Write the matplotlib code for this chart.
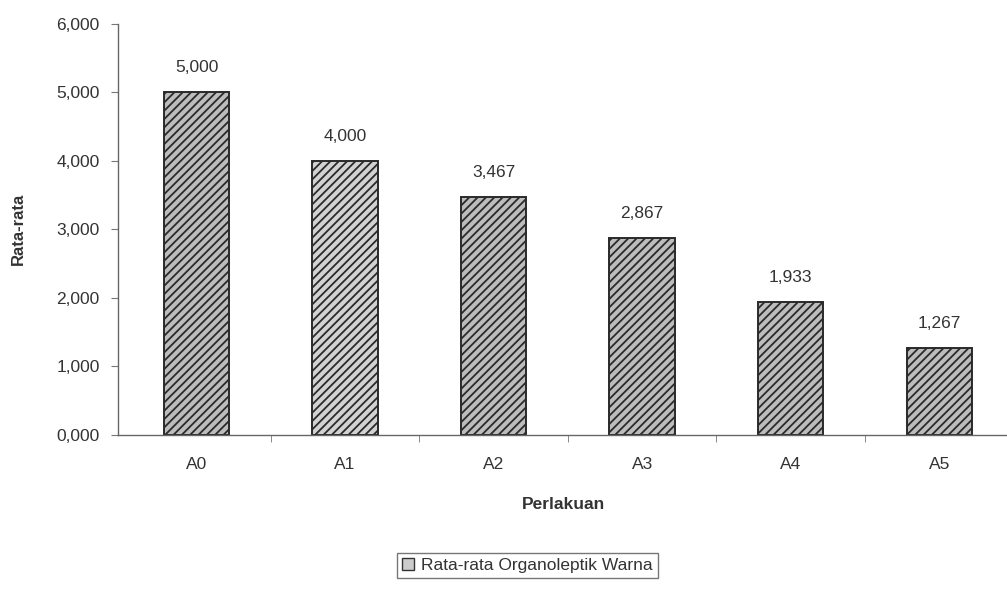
import matplotlib.pyplot as plt
import matplotlib as mpl
from matplotlib.patches import Patch

mpl.rcParams['hatch.color'] = '#9c9c9c'
mpl.rcParams['hatch.linewidth'] = 1.3
plt.rcParams['font.family'] = ['Liberation Sans', 'DejaVu Sans']

# data
categories = ['A0', 'A1', 'A2', 'A3', 'A4', 'A5']
values = [5.000, 4.000, 3.467, 2.867, 1.933, 1.267]
value_labels = ['5,000', '4,000', '3,467', '2,867', '1,933', '1,267']
yticks = [0, 1, 2, 3, 4, 5, 6]
ytick_labels = ['0,000', '1,000', '2,000', '3,000', '4,000', '5,000', '6,000']
legend_label = 'Rata-rata Organoleptik Warna'

text_col = '#333333'
fig = plt.figure(figsize=(10.07, 5.91), dpi=100)
ax = fig.add_axes([0.117, 0.264, 0.885, 0.696])

x = list(range(len(categories)))
bars = ax.bar(x, values, width=0.44, color='#bcbcbc', edgecolor='#2a2a2a',
              linewidth=1.4, hatch='////')
bars[1].set_facecolor('#d2d2d2')

# value labels above bars
for xi, v, lab in zip(x, values, value_labels):
    ax.text(xi, v + 0.25, lab, ha='center', va='bottom', fontsize=12.5, color=text_col)

ax.set_xlim(-0.53, 5.47)
ax.set_ylim(0, 6)
ax.set_yticks(yticks)
ax.set_yticklabels(ytick_labels, fontsize=12.5, color=text_col)
ax.set_xticks(x)
ax.set_xticklabels(categories, fontsize=12.5, color=text_col)
ax.tick_params(axis='x', length=0, pad=16)
ax.set_xticks([i + 0.5 for i in x[:-1]], minor=True)
ax.tick_params(axis='x', which='minor', length=5, color='#777777')
ax.tick_params(axis='y', length=5, color='#777777', pad=8)

for s in ['top', 'right']:
    ax.spines[s].set_visible(False)
for s in ['left', 'bottom']:
    ax.spines[s].set_color('#666666')
    ax.spines[s].set_linewidth(1.0)

ax.set_ylabel('Rata-rata', fontsize=12, fontweight='bold', color=text_col, labelpad=22)
ax.set_xlabel('Perlakuan', fontsize=12.5, fontweight='bold', color=text_col, labelpad=18)

handle = Patch(facecolor='#cccccc', edgecolor='#333333', linewidth=1.0)
fig.legend([handle], [legend_label], loc='center', bbox_to_anchor=(0.524, 0.043),
           fontsize=12.5, frameon=True, fancybox=False, edgecolor='#555555',
           handlelength=0.7, handleheight=0.7, handletextpad=0.4, borderpad=0.3,
           labelcolor=text_col)

fig.savefig('out.png', dpi=100)
